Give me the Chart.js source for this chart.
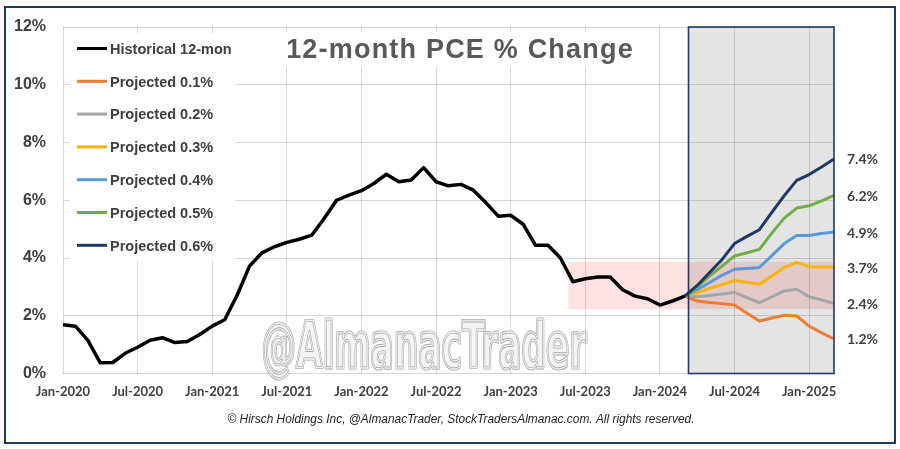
<!DOCTYPE html>
<html>
<head>
<meta charset="utf-8">
<script src="https://cdn.jsdelivr.net/npm/chart.js@4.4.1/dist/chart.umd.min.js"></script>
<style>
html,body{margin:0;padding:0;background:#fff;}
canvas{display:block;}
</style>
</head>
<body>
<canvas id="c" width="900" height="449"></canvas>
<script>
// ---- categories ----
const months = [
 'Jan-2020','Feb-2020','Mar-2020','Apr-2020','May-2020','Jun-2020','Jul-2020','Aug-2020','Sep-2020','Oct-2020','Nov-2020','Dec-2020',
 'Jan-2021','Feb-2021','Mar-2021','Apr-2021','May-2021','Jun-2021','Jul-2021','Aug-2021','Sep-2021','Oct-2021','Nov-2021','Dec-2021',
 'Jan-2022','Feb-2022','Mar-2022','Apr-2022','May-2022','Jun-2022','Jul-2022','Aug-2022','Sep-2022','Oct-2022','Nov-2022','Dec-2022',
 'Jan-2023','Feb-2023','Mar-2023','Apr-2023','May-2023','Jun-2023','Jul-2023','Aug-2023','Sep-2023','Oct-2023','Nov-2023','Dec-2023',
 'Jan-2024','Feb-2024','Mar-2024','Apr-2024','May-2024','Jun-2024','Jul-2024','Aug-2024','Sep-2024','Oct-2024','Nov-2024','Dec-2024',
 'Jan-2025','Feb-2025','Mar-2025'
];

// ---- historical 12-month PCE % (Jan-2020 .. Mar-2024) ----
const historical = [
 1.69,1.64,1.15,0.37,0.38,0.70,0.91,1.15,1.24,1.07,1.11,1.35,
 1.64,1.86,2.71,3.72,4.18,4.39,4.54,4.65,4.79,5.37,6.00,6.18,
 6.33,6.58,6.90,6.64,6.70,7.13,6.64,6.50,6.55,6.35,5.92,5.45,
 5.48,5.17,4.44,4.44,4.00,3.18,3.28,3.34,3.34,2.90,2.68,2.59,
 2.37,2.51,2.68
];

// ---- projections (Mar-2024 .. Mar-2025) ----
const projStartLabel = 'Mar-2024';
const proj01 = [2.68,2.51,2.46,2.42,2.37,2.09,1.82,1.92,2.02,1.99,1.64,1.41,1.20];
const proj02 = [2.68,2.66,2.70,2.75,2.81,2.63,2.45,2.65,2.86,2.92,2.66,2.55,2.42];
const proj03 = [2.68,2.80,2.95,3.08,3.22,3.16,3.09,3.38,3.67,3.85,3.70,3.69,3.68];
const proj04 = [2.68,2.90,3.15,3.40,3.61,3.64,3.67,4.08,4.50,4.78,4.78,4.85,4.90];
const proj05 = [2.68,3.00,3.38,3.72,4.07,4.18,4.30,4.86,5.38,5.73,5.81,5.98,6.17];
const proj06 = [2.68,3.05,3.50,3.95,4.50,4.75,4.98,5.58,6.16,6.69,6.89,7.15,7.43];

const seriesNames = ['Historical 12-mon','Projected 0.1%','Projected 0.2%','Projected 0.3%','Projected 0.4%','Projected 0.5%','Projected 0.6%'];
const seriesColors = ['#000000','#ED7D31','#A5A5A5','#F8B400','#5B9BD5','#70AD47','#1F3864'];

// ---- y ticks ----
const yTicks = [0,2,4,6,8,10,12];

// ---- annotation ranges ----
const shadeFromIndex = 50.3;          // grey projection window
const bandFromIndex = 40.65;          // pink target band
const bandLow = 2.23, bandHigh = 3.87;

const titleText = '12-month PCE % Change';
const watermarkText = '@AlmanacTrader';
const footerText = '\u00A9 Hirsch Holdings Inc, @AlmanacTrader, StockTradersAlmanac.com. All rights reserved.';

const LABEL_FONT = 'Lato, "Open Sans", "Liberation Sans", sans-serif';

// ---- build full-length series ----
const startIdx = months.indexOf(projStartLabel);
function pad(arr, offset){
  const out = months.map(()=>null);
  arr.forEach((v,i)=>{ out[offset+i]=v; });
  return out;
}
const allSeries = [pad(historical,0), pad(proj01,startIdx), pad(proj02,startIdx), pad(proj03,startIdx),
                   pad(proj04,startIdx), pad(proj05,startIdx), pad(proj06,startIdx)];

const datasets = allSeries.map((d,i)=>({
  label: seriesNames[i],
  data: d,
  borderColor: seriesColors[i],
  backgroundColor: seriesColors[i],
  borderWidth: i===0 ? 3.5 : 3,
  pointRadius: 0,
  tension: 0,
  spanGaps: false,
  order: i===0 ? 0 : 7 - i,
  borderJoinStyle: 'round'
}));

const deco = {
  id: 'deco',
  beforeDraw(chart){
    const {ctx, chartArea:a, scales:{x}} = chart;
    ctx.save();
    ctx.fillStyle = '#ffffff';
    ctx.fillRect(0,0,chart.width,chart.height);
    const sx = x.getPixelForValue(shadeFromIndex);
    ctx.fillStyle = '#E4E4E4';
    ctx.fillRect(sx, a.top, a.right - sx, a.bottom - a.top);
    ctx.restore();
  },
  beforeDatasetsDraw(chart){
    const {ctx, chartArea:a, scales:{x,y}} = chart;
    ctx.save();
    // pink band (multiply)
    const bx = x.getPixelForValue(bandFromIndex);
    const by1 = y.getPixelForValue(bandHigh), by2 = y.getPixelForValue(bandLow);
    ctx.globalCompositeOperation = 'multiply';
    ctx.fillStyle = 'rgb(255,225,225)';
    ctx.fillRect(bx, by1, a.right - bx, by2 - by1);
    ctx.globalCompositeOperation = 'source-over';

    // legend & title backgrounds
    ctx.fillStyle = '#ffffff';
    ctx.fillRect(70, 33, 165, 228);
    ctx.fillRect(275, 32, 370, 35);

    // watermark
    ctx.font = 'bold 64px "DejaVu Sans Condensed", "DejaVu Sans", sans-serif';
    const w = ctx.measureText(watermarkText).width;
    const sc = 325 / w;
    ctx.save();
    ctx.translate(424, 368);
    ctx.scale(sc, 1);
    ctx.textAlign = 'center';
    ctx.textBaseline = 'alphabetic';
    ctx.lineJoin = 'round';
    ctx.fillStyle = 'rgba(243,243,243,0.92)';
    ctx.fillText(watermarkText, 0, 0);
    ctx.strokeStyle = '#A8A8A8';
    ctx.lineWidth = 3.2;
    ctx.strokeText(watermarkText, 0, 0);
    ctx.strokeStyle = '#F4F4F4';
    ctx.lineWidth = 1.3;
    ctx.strokeText(watermarkText, 0, 0);
    ctx.restore();

    // title
    ctx.font = 'bold 27px "Liberation Sans", Arial, sans-serif';
    if ('letterSpacing' in ctx) ctx.letterSpacing = '1.2px';
    ctx.fillStyle = '#595959';
    ctx.textAlign = 'center';
    ctx.textBaseline = 'alphabetic';
    ctx.fillText(titleText, 460, 58);
    if ('letterSpacing' in ctx) ctx.letterSpacing = '0px';

    // legend
    ctx.font = 'bold 14.5px "Liberation Sans", Arial, sans-serif';
    ctx.textAlign = 'left';
    chart.data.datasets.forEach((ds,i)=>{
      const cy = 48.5 + 32.8*i;
      ctx.strokeStyle = ds.borderColor;
      ctx.lineWidth = 3;
      ctx.beginPath();
      ctx.moveTo(77, cy); ctx.lineTo(107, cy);
      ctx.stroke();
      ctx.fillStyle = '#404040';
      ctx.fillText(ds.label, 110, cy + 5.3);
    });
    ctx.restore();
  },
  afterDatasetsDraw(chart){
    const {ctx, chartArea:a, scales:{x,y}} = chart;
    ctx.save();
    // grey window border
    const sx = x.getPixelForValue(shadeFromIndex);
    ctx.strokeStyle = '#1F3864';
    ctx.lineWidth = 1.6;
    ctx.strokeRect(sx, a.top, a.right - sx, a.bottom - a.top);

    // end-value labels
    ctx.font = 'bold 14px ' + LABEL_FONT;
    ctx.fillStyle = '#404040';
    ctx.textAlign = 'left';
    ctx.textBaseline = 'middle';
    for (let i=1;i<chart.data.datasets.length;i++){
      const d = chart.data.datasets[i].data;
      const v = d[d.length-1];
      ctx.fillText(v.toFixed(1)+'%', a.right + 13, y.getPixelForValue(v) + 1);
    }

    // footer
    ctx.font = 'italic 12.5px "Liberation Sans Narrow", "Liberation Sans", Arial, sans-serif';
    ctx.fillStyle = '#262626';
    ctx.textAlign = 'center';
    ctx.fillText(footerText, 461, 420, 467);

    // outer border
    ctx.strokeStyle = '#1F3864';
    ctx.lineWidth = 2;
    ctx.strokeRect(5, 7, 890, 436);
    ctx.restore();
  }
};

function build(){
  new Chart(document.getElementById('c'), {
    type: 'line',
    data: { labels: months, datasets: datasets },
    options: {
      responsive: false,
      devicePixelRatio: 1,
      animation: false,
      events: [],
      layout: { padding: { top: 27, right: 66, bottom: 45, left: 0 } },
      plugins: { legend: { display: false }, tooltip: { enabled: false }, title: { display: false } },
      scales: {
        x: {
          type: 'category',
          offset: false,
          border: { display: false },
          grid: {
            drawTicks: false,
            lineWidth: 1,
            color: (c) => (c.index % 6 === 0 ? 'rgba(0,0,0,0.15)' : 'rgba(0,0,0,0)')
          },
          ticks: {
            autoSkip: false,
            maxRotation: 0,
            minRotation: 0,
            padding: 11,
            color: '#404040',
            font: { family: LABEL_FONT, weight: 'bold', size: 13 },
            callback: function(val, idx){ return idx % 6 === 0 ? months[idx] : ''; }
          },
          afterFit: (s) => { s.height = 30.5; }
        },
        y: {
          min: yTicks[0],
          max: yTicks[yTicks.length-1],
          border: { display: false },
          grid: { drawTicks: false, color: 'rgba(0,0,0,0.15)', lineWidth: 1 },
          afterBuildTicks: (s) => { s.ticks = yTicks.map(v=>({value:v})); },
          ticks: {
            padding: 17,
            color: '#404040',
            font: { family: '"Liberation Sans", Arial, sans-serif', weight: 'bold', size: 16 },
            callback: (v) => v + '%'
          },
          afterFit: (s) => { s.width = 63; }
        }
      }
    },
    plugins: [deco]
  });
}

let built = false;
function go(){ if (!built){ built = true; build(); } }
const fontsToLoad = ['bold 13px Lato','bold 14px Lato','bold 64px "DejaVu Sans Condensed"','italic 12.5px "Liberation Sans Narrow"','bold 16px "Liberation Sans"','bold 27px "Liberation Sans"'];
if (document.fonts && document.fonts.load){
  Promise.all(fontsToLoad.map(f=>document.fonts.load(f).catch(()=>null))).then(go, go);
  setTimeout(go, 800);
} else { go(); }
</script>
</body>
</html>
